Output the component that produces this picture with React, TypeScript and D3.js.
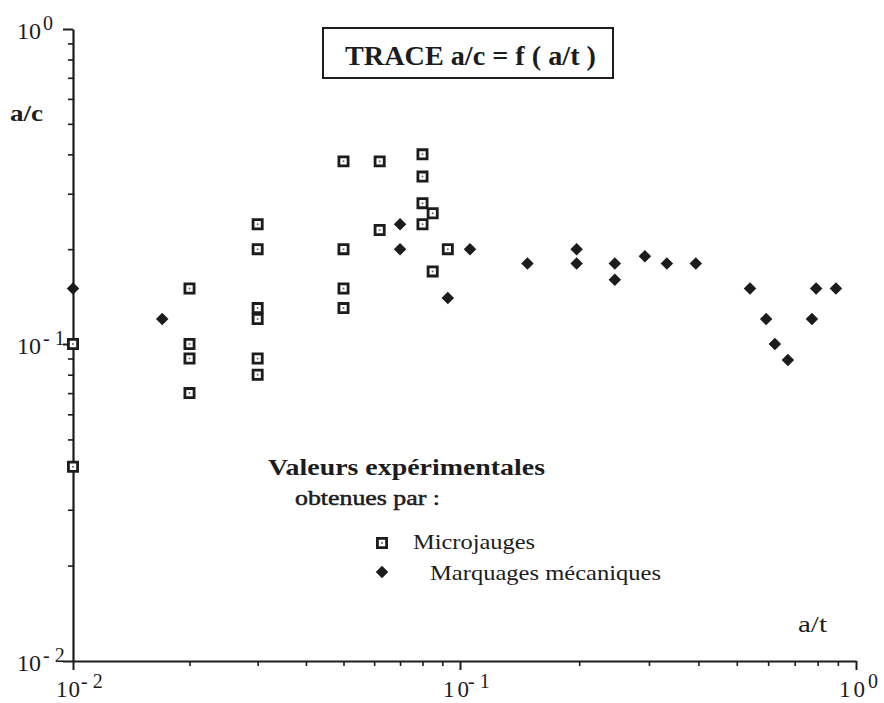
import React, { useEffect, useRef } from 'react';
import * as d3 from 'd3';

// Microjauges (open squares)
const microAT = [0.01, 0.01, 0.02, 0.02, 0.02, 0.02, 0.03, 0.03, 0.03, 0.03, 0.03, 0.03, 0.05, 0.05, 0.05, 0.05, 0.062, 0.062, 0.08, 0.08, 0.08, 0.08, 0.085, 0.085, 0.093];
const microAC = [0.1, 0.041, 0.15, 0.1, 0.09, 0.07, 0.24, 0.2, 0.13, 0.12, 0.09, 0.08, 0.38, 0.2, 0.15, 0.13, 0.38, 0.23, 0.4, 0.34, 0.28, 0.24, 0.26, 0.17, 0.2];

// Marquages mecaniques (filled diamonds)
const markAT = [0.01, 0.017, 0.07, 0.07, 0.093, 0.106, 0.148, 0.197, 0.197, 0.246, 0.246, 0.293, 0.333, 0.394, 0.54, 0.593, 0.624, 0.673, 0.774, 0.793, 0.89];
const markAC = [0.15, 0.12, 0.24, 0.2, 0.14, 0.2, 0.18, 0.2, 0.18, 0.18, 0.16, 0.19, 0.18, 0.18, 0.15, 0.12, 0.1, 0.089, 0.12, 0.15, 0.15];

const decades = [0.01, 0.1, 1];
const exponents = ['- 2', '- 1', '0'];
const minorTicks = [0.02, 0.03, 0.04, 0.05, 0.06, 0.07, 0.08, 0.09, 0.2, 0.3, 0.4, 0.5, 0.6, 0.7, 0.8, 0.9];

const INK = '#1c1c1c';
const FONT = '"Liberation Serif", "Times New Roman", serif';

const App: React.FC = () => {
  const ref = useRef<SVGSVGElement | null>(null);

  useEffect(() => {
    if (!ref.current) return;
    const svg = d3.select(ref.current);
    svg.selectAll('*').remove();

    // the scanned decades are not quite equal, so map each decade on its own
    const x = d3.scaleLog().domain(decades).range([73, 460, 856]);
    const y = d3.scaleLog().domain([...decades].reverse()).range([29, 344, 661]);
    const x0 = x(0.01);
    const y0 = y(0.01);

    const styleAxis = (g: any, w: number) => {
      g.selectAll('path, line').attr('stroke', INK).attr('stroke-width', w);
      g.selectAll('text').remove();
    };

    // y axis
    svg.append('g')
      .attr('transform', `translate(${x0},0)`)
      .call(d3.axisLeft(y).tickValues(minorTicks).tickSize(5).tickSizeOuter(0))
      .call(g => styleAxis(g, 1.6))
      .select('.domain').attr('stroke-width', 2.2);
    svg.append('g')
      .attr('transform', `translate(${x0},0)`)
      .call(d3.axisLeft(y).tickValues(decades).tickSize(10).tickSizeOuter(0))
      .call(g => styleAxis(g, 2))
      .select('.domain').remove();

    // x axis
    svg.append('g')
      .attr('transform', `translate(0,${y0})`)
      .call(d3.axisBottom(x).tickValues(minorTicks).tickSize(5).tickSizeOuter(0))
      .call(g => styleAxis(g, 1.6))
      .select('.domain').attr('stroke-width', 2.2);
    svg.append('g')
      .attr('transform', `translate(0,${y0})`)
      .call(d3.axisBottom(x).tickValues(decades).tickSize(9).tickSizeOuter(0))
      .call(g => styleAxis(g, 2))
      .select('.domain').remove();

    // tick labels 10^n, base and exponent as separate texts
    const lab = svg.append('g').attr('font-family', FONT).attr('fill', INK);
    decades.forEach((d, i) => {
      lab.append('text').attr('x', 17).attr('y', y(d) + 10)
        .attr('font-size', 23).attr('textLength', 24).attr('lengthAdjust', 'spacingAndGlyphs')
        .text('10');
      lab.append('text').attr('x', 43).attr('y', y(d) + 1)
        .attr('font-size', 20).attr('xml:space', 'preserve')
        .text(exponents[i]);
    });
    decades.forEach((d, i) => {
      lab.append('text').attr('x', x(d) - 17).attr('y', 697)
        .attr('font-size', 23).attr('textLength', i > 0 ? 26 : 24).attr('lengthAdjust', 'spacing')
        .text('10');
      lab.append('text').attr('x', x(d) + (i === 2 ? 12 : 8)).attr('y', 688)
        .attr('font-size', 20).attr('xml:space', 'preserve')
        .text(exponents[i]);
    });

    // axis titles
    svg.append('text')
      .attr('x', 10).attr('y', 121)
      .attr('font-family', FONT).attr('font-weight', 'bold').attr('font-size', 23)
      .attr('textLength', 33).attr('lengthAdjust', 'spacingAndGlyphs')
      .attr('fill', INK).text('a/c');
    svg.append('text')
      .attr('x', 798).attr('y', 632)
      .attr('font-family', FONT).attr('font-size', 23)
      .attr('textLength', 29).attr('lengthAdjust', 'spacingAndGlyphs')
      .attr('fill', INK).text('a/t');

    // title box
    svg.append('rect')
      .attr('x', 323).attr('y', 28).attr('width', 290).attr('height', 50)
      .attr('fill', 'white').attr('stroke', INK).attr('stroke-width', 2);
    svg.append('text')
      .attr('x', 345).attr('y', 65)
      .attr('font-family', FONT).attr('font-weight', 'bold').attr('font-size', 27)
      .attr('textLength', 251).attr('lengthAdjust', 'spacingAndGlyphs')
      .attr('fill', INK).text('TRACE a/c = f ( a/t )');

    const squarePath = d3.symbol(d3.symbolSquare, 84)();
    const diamondPath = d3.symbol(d3.symbolSquare, 78)();

    const drawSquare = (g: any, cx: number, cy: number) => {
      g.append('path').attr('d', squarePath).attr('transform', `translate(${cx},${cy})`)
        .attr('fill', 'white').attr('stroke', INK).attr('stroke-width', 2.8);
      g.append('circle').attr('cx', cx).attr('cy', cy).attr('r', 1).attr('fill', '#666');
    };
    const drawDiamond = (g: any, cx: number, cy: number) => {
      g.append('path').attr('d', diamondPath).attr('transform', `translate(${cx},${cy}) rotate(45)`)
        .attr('fill', INK);
    };

    const marks = svg.append('g');
    markAT.forEach((v, i) => drawDiamond(marks, x(v), y(markAC[i])));
    microAT.forEach((v, i) => drawSquare(marks, x(v), y(microAC[i])));

    // legend
    const leg = svg.append('g').attr('font-family', FONT).attr('fill', INK);
    leg.append('text').attr('x', 268).attr('y', 475)
      .attr('font-weight', 'bold').attr('font-size', 23)
      .attr('textLength', 277).attr('lengthAdjust', 'spacingAndGlyphs')
      .text('Valeurs expérimentales');
    leg.append('text').attr('x', 295).attr('y', 505)
      .attr('font-size', 21).attr('stroke', INK).attr('stroke-width', 0.5)
      .attr('textLength', 145).attr('lengthAdjust', 'spacingAndGlyphs')
      .text('obtenues par :');
    drawSquare(leg, 382, 543);
    leg.append('text').attr('x', 413).attr('y', 549)
      .attr('font-size', 22).attr('textLength', 122).attr('lengthAdjust', 'spacingAndGlyphs')
      .text('Microjauges');
    drawDiamond(leg, 382, 572);
    leg.append('text').attr('x', 430).attr('y', 580)
      .attr('font-size', 22).attr('textLength', 231).attr('lengthAdjust', 'spacingAndGlyphs')
      .text('Marquages mécaniques');
  }, []);

  return (
    <svg
      ref={ref}
      width={884}
      height={703}
      style={{ position: 'absolute', left: 0, top: 0, background: 'white' }}
    />
  );
};

export default App;
